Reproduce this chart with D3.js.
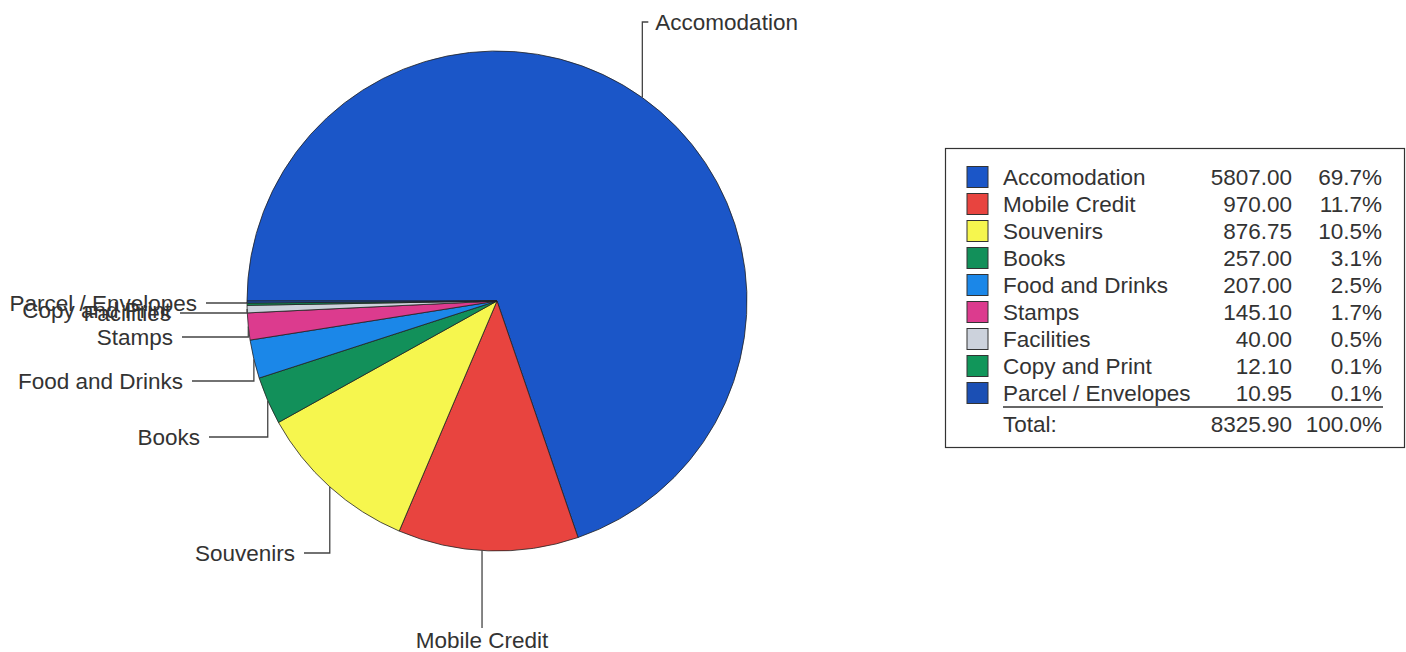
<!DOCTYPE html>
<html>
<head>
<meta charset="utf-8">
<script src="https://cdn.jsdelivr.net/npm/d3@7"></script>
<style>
  html, body { margin: 0; padding: 0; background: #ffffff; }
  svg { display: block; }
  text { font-family: "Liberation Sans", Arial, sans-serif; fill: #333; }
</style>
</head>
<body>
<svg id="chart" width="1406" height="652"></svg>
<script>
// ---- data ----
const categories = ["Accomodation", "Mobile Credit", "Souvenirs", "Books", "Food and Drinks",
                    "Stamps", "Facilities", "Copy and Print", "Parcel / Envelopes"];
const values = [5807.00, 970.00, 876.75, 257.00, 207.00, 145.10, 40.00, 12.10, 10.95];
const valueLabels = ["5807.00", "970.00", "876.75", "257.00", "207.00", "145.10", "40.00", "12.10", "10.95"];
const percentLabels = ["69.7%", "11.7%", "10.5%", "3.1%", "2.5%", "1.7%", "0.5%", "0.1%", "0.1%"];
const totalLabel = "Total:";
const totalValue = "8325.90";
const totalPercent = "100.0%";

// ---- style ----
const colors = ["#1b56c8", "#e8443f", "#f6f64e", "#12905a", "#1b87e8",
                "#dc3b8e", "#ccd2dc", "#11965a", "#1b4fb4"];

// label layout (positions of the leader elbows / text), kept separate from data
const labelLayout = [
  {dir: "up",   y: 22,  dx: 0},
  {dir: "down", y: 628, textY: 640, dx: -6},
  {dir: "left", y: 553, end: 295},
  {dir: "left", y: 437, end: 200},
  {dir: "left", y: 381, end: 183},
  {dir: "left", y: 337, end: 173},
  {dir: "left", y: 313, end: 171},
  {dir: "left", y: 310, end: 171, noLine: true},
  {dir: "left", y: 303, end: 197}
];

const svg = d3.select("#chart");
const cx = 497, cy = 301, R = 250;
const fontSize = 22.5;

const pie = d3.pie().sort(null).value(d => d.v)
  .startAngle(-Math.PI / 2).endAngle(3 * Math.PI / 2);
const data = categories.map((c, i) => ({c, v: values[i], i}));
const arcs = pie(data);
const arc = d3.arc().innerRadius(0).outerRadius(R);

const g = svg.append("g").attr("transform", `translate(${cx},${cy})`);
g.selectAll("path.slice").data(arcs).enter().append("path")
  .attr("class", "slice")
  .attr("d", arc)
  .attr("fill", d => colors[d.data.i])
  .attr("stroke", "#222")
  .attr("stroke-width", 0.8)
  .attr("stroke-linejoin", "round");

// leader lines and labels
const lines = svg.append("g").attr("fill", "none").attr("stroke", "#444").attr("stroke-width", 1.3);
const labels = svg.append("g").attr("font-size", fontSize);

arcs.forEach((a, k) => {
  const L = labelLayout[k];
  const mid = (a.startAngle + a.endAngle) / 2;
  const ex = cx + R * Math.sin(mid) + (L.dx || 0);
  const ey = cy - R * Math.cos(mid);
  if (L.dir === "up") {
    lines.append("path").attr("d", `M${ex},${ey} V${L.y} H${ex + 6}`);
    labels.append("text").attr("x", ex + 13).attr("y", L.y).attr("dy", "0.35em")
      .text(a.data.c);
  } else if (L.dir === "down") {
    const x0 = cx + R * Math.sin(mid) + L.dx;
    const y0 = cy + Math.sqrt(R * R - (x0 - cx) * (x0 - cx));
    lines.append("path").attr("d", `M${x0},${y0} V${L.y}`);
    labels.append("text").attr("x", x0).attr("y", L.textY).attr("dy", "0.35em")
      .attr("text-anchor", "middle").text(a.data.c);
  } else {
    if (!L.noLine) {
      lines.append("path").attr("d", `M${L.end + 9},${L.y} H${ex} V${ey}`);
    }
    labels.append("text").attr("x", L.end).attr("y", L.y).attr("dy", "0.35em")
      .attr("text-anchor", "end").text(a.data.c);
  }
});

// ---- legend ----
const lg = svg.append("g");
const boxX = 945.5, boxY = 148.5, boxW = 459, boxH = 299;
lg.append("rect").attr("x", boxX).attr("y", boxY).attr("width", boxW).attr("height", boxH)
  .attr("fill", "#fff").attr("stroke", "#333").attr("stroke-width", 1.2);

const rowY = d3.scaleLinear().domain([0, 1]).range([177, 204]);
const swX = 967, swS = 21, txX = 1003, valX = 1292, pctX = 1382;

categories.forEach((c, i) => {
  const y = rowY(i);
  lg.append("rect").attr("x", swX).attr("y", y - swS / 2).attr("width", swS).attr("height", swS)
    .attr("fill", colors[i]).attr("stroke", "#333").attr("stroke-width", 1);
  lg.append("text").attr("x", txX).attr("y", y).attr("dy", "0.35em").attr("font-size", fontSize).text(c);
  lg.append("text").attr("x", valX).attr("y", y).attr("dy", "0.35em").attr("font-size", fontSize)
    .attr("text-anchor", "end").text(valueLabels[i]);
  lg.append("text").attr("x", pctX).attr("y", y).attr("dy", "0.35em").attr("font-size", fontSize)
    .attr("text-anchor", "end").text(percentLabels[i]);
});
const sepY = 407;
lg.append("line").attr("x1", txX).attr("x2", pctX + 1).attr("y1", sepY).attr("y2", sepY)
  .attr("stroke", "#333").attr("stroke-width", 1.5);
const ty = 424;
lg.append("text").attr("x", txX).attr("y", ty).attr("dy", "0.35em").attr("font-size", fontSize).text(totalLabel);
lg.append("text").attr("x", valX).attr("y", ty).attr("dy", "0.35em").attr("font-size", fontSize)
  .attr("text-anchor", "end").text(totalValue);
lg.append("text").attr("x", pctX).attr("y", ty).attr("dy", "0.35em").attr("font-size", fontSize)
  .attr("text-anchor", "end").text(totalPercent);
</script>
</body>
</html>
